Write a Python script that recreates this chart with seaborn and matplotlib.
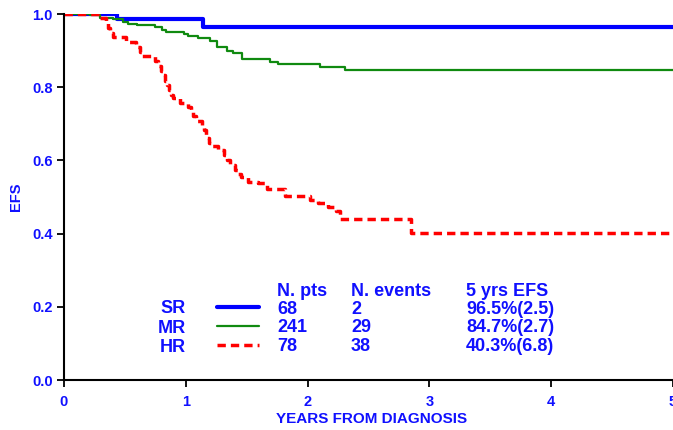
import matplotlib
matplotlib.use("Agg")
import matplotlib.pyplot as plt
import seaborn as sns
import pandas as pd

# ---- data ----
groups = ["SR", "MR", "HR"]
sr_times = [0.0, 0.435, 1.14, 5.0]
sr_efs = [1.0, 0.985, 0.965, 0.965]
mr_times = [0.0, 0.213, 0.296, 0.402, 0.484, 0.525, 0.599, 0.747, 0.805, 0.837,
            0.985, 1.018, 1.10, 1.199, 1.256, 1.338, 1.387, 1.461, 1.691, 1.757,
            2.102, 2.307, 5.0]
mr_efs = [1.0, 0.996, 0.99, 0.986, 0.979, 0.974, 0.970, 0.965, 0.956, 0.952,
          0.945, 0.940, 0.934, 0.925, 0.910, 0.900, 0.893, 0.877, 0.869, 0.863,
          0.855, 0.847, 0.847]
hr_times = [0.0, 0.296, 0.345, 0.361, 0.378, 0.402, 0.509, 0.591, 0.624, 0.640,
            0.747, 0.772, 0.796, 0.813, 0.829, 0.846, 0.862, 0.878, 0.895, 0.952,
            1.018, 1.043, 1.059, 1.084, 1.133, 1.149, 1.166, 1.190, 1.207, 1.264,
            1.314, 1.338, 1.363, 1.404, 1.429, 1.453, 1.511, 1.593, 1.667, 1.814,
            2.020, 2.085, 2.167, 2.233, 2.266, 2.849, 5.0]
hr_efs = [1.0, 0.988, 0.975, 0.962, 0.949, 0.936, 0.923, 0.910, 0.897, 0.884,
          0.871, 0.858, 0.845, 0.832, 0.818, 0.805, 0.792, 0.779, 0.770, 0.757,
          0.746, 0.733, 0.720, 0.708, 0.695, 0.683, 0.662, 0.648, 0.638, 0.628,
          0.615, 0.600, 0.587, 0.574, 0.562, 0.554, 0.542, 0.537, 0.521, 0.504,
          0.493, 0.484, 0.472, 0.462, 0.439, 0.403, 0.403]
n_pts = ["68", "241", "78"]
n_events = ["2", "29", "38"]
efs_5y = ["96.5%(2.5)", "84.7%(2.7)", "40.3%(6.8)"]
headers = ["N. pts", "N. events", "5 yrs EFS"]
x_ticks = [0, 1, 2, 3, 4, 5]
y_ticks = [0.0, 0.2, 0.4, 0.6, 0.8, 1.0]

# ---- styling ----
sns.set_style("ticks")
plt.rcParams["font.family"] = ["Liberation Sans", "DejaVu Sans"]
plt.rcParams["font.weight"] = "bold"
BLUE_TXT = "#1010ff"
TABLE_FS = 13
palette = {"SR": "#0000ff", "MR": "#108a10", "HR": "#ff0000"}
sizes = {"SR": 3.0, "MR": 1.6, "HR": 2.5}
dashes = {"SR": "", "MR": "", "HR": (2.4, 1.45)}

frames = []
for g, t, e in [("SR", sr_times, sr_efs), ("MR", mr_times, mr_efs), ("HR", hr_times, hr_efs)]:
    frames.append(pd.DataFrame({"t": t, "efs": e, "group": g}))
df = pd.concat(frames, ignore_index=True)

fig = plt.figure(figsize=(6.73, 4.30), dpi=100)
ax = fig.add_axes([64 / 673, 50 / 430, 609 / 673, 366 / 430])

sns.lineplot(data=df, x="t", y="efs", hue="group", size="group", style="group",
             hue_order=groups, size_order=groups, style_order=groups,
             palette=palette, sizes=sizes, dashes=dashes,
             estimator=None, sort=False, drawstyle="steps-post",
             legend=False, ax=ax)

ax.set_xlim(0, 5)
ax.set_ylim(0, 1.0)
ax.set_xticks(x_ticks)
ax.set_xticklabels([str(v) for v in x_ticks])
ax.set_yticks(y_ticks)
ax.set_yticklabels([f"{v:.1f}" for v in y_ticks])
sns.despine(ax=ax)
for s in ["left", "bottom"]:
    ax.spines[s].set_linewidth(1.5)
    ax.spines[s].set_color("black")
ax.tick_params(axis="both", direction="out", length=5, width=1.3, color="black",
               labelsize=10.5, labelcolor=BLUE_TXT)
ax.tick_params(axis="x", pad=6)
ax.tick_params(axis="y", pad=3)
for lab in ax.get_xticklabels() + ax.get_yticklabels():
    lab.set_fontweight("bold")

ax.set_xlabel("YEARS FROM DIAGNOSIS", fontsize=11, fontweight="bold", color=BLUE_TXT)
ax.set_ylabel("EFS", fontsize=10.5, fontweight="bold", color=BLUE_TXT)
ax.xaxis.set_label_coords(0.505, -0.088)
ax.yaxis.set_label_coords(-0.068, 0.5)

# legend keys (label on the left, line on the right)
handles = [h for h in ax.get_lines()[:3]]
leg = ax.legend(handles, groups, markerfirst=False, frameon=False,
                loc="center right", bbox_to_anchor=(0.320, 0.142),
                borderpad=0, borderaxespad=0, handlelength=2.33, handletextpad=1.72,
                labelspacing=0.12, prop={"size": TABLE_FS, "weight": "bold"})
for txt in leg.get_texts():
    txt.set_color(BLUE_TXT)

# table columns
col_x = [1.749, 2.356, 3.30]
row_y = [0.1925, 0.1425, 0.0925]
header_y = 0.2405
for cx, h in zip(col_x, headers):
    ax.text(cx, header_y, h, fontsize=TABLE_FS, fontweight="bold", color=BLUE_TXT,
            ha="left", va="center")
for cx, col in zip(col_x, [n_pts, n_events, efs_5y]):
    for ry, v in zip(row_y, col):
        ax.text(cx, ry, v, fontsize=TABLE_FS, fontweight="bold", color=BLUE_TXT,
                ha="left", va="center")

fig.savefig("out.png", dpi=100)
